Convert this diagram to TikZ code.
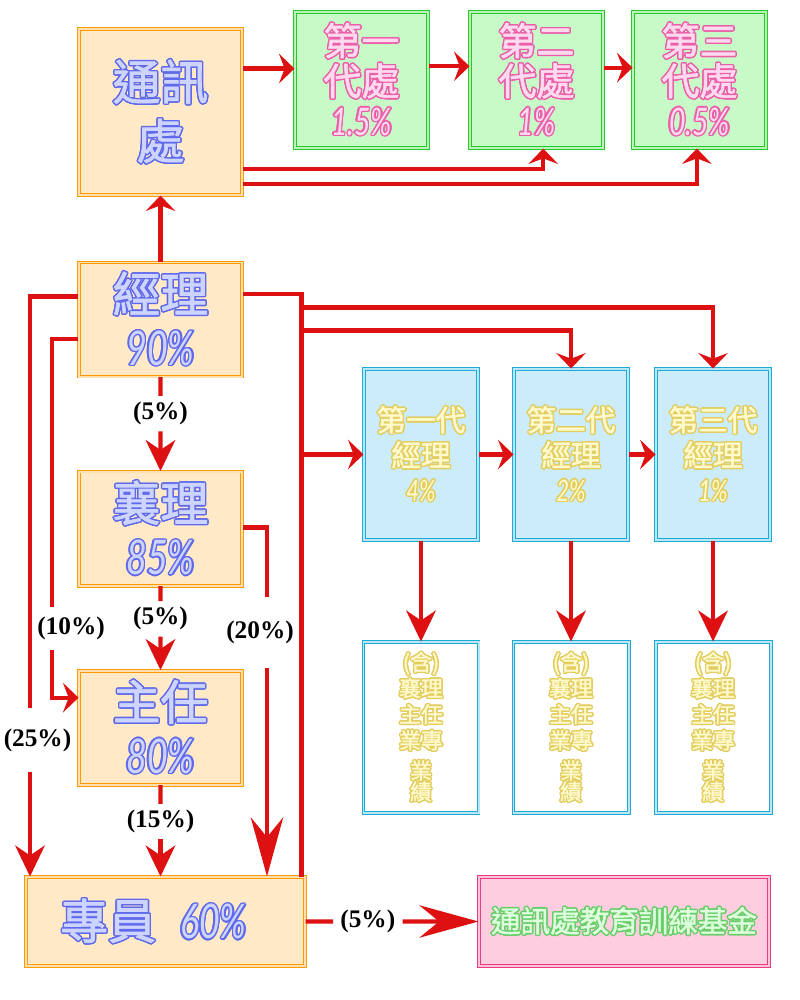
\documentclass[tikz,border=0pt]{standalone}
\usepackage{fontspec}
\usepackage{contour}
\usepackage{tikz}
\usetikzlibrary{arrows.meta,positioning,calc}
\setmainfont{Liberation Serif}
\newfontfamily\cjkfont[FakeBold=1.5]{Noto Sans CJK TC}
\newfontfamily\numfont[FakeStretch=0.75]{Lato}
\contourlength{1pt}
\definecolor{dfred}{RGB}{221,17,17}
\definecolor{dforange}{RGB}{255,153,0}
\definecolor{dfpeach}{RGB}{255,233,198}
\definecolor{dfgreen}{RGB}{34,204,34}
\definecolor{dflightgreen}{RGB}{200,250,200}
\definecolor{dfcyan}{RGB}{30,170,215}
\definecolor{dflightcyan}{RGB}{204,236,250}
\definecolor{dfpink}{RGB}{235,60,130}
\definecolor{dflightpink}{RGB}{255,204,224}
\definecolor{txtblue}{RGB}{205,212,255}
\definecolor{txtblueline}{RGB}{95,105,235}
\definecolor{txtpink}{RGB}{255,218,238}
\definecolor{txtpinkline}{RGB}{235,95,170}
\definecolor{txtyellow}{RGB}{255,250,205}
\definecolor{txtyellowline}{RGB}{228,205,95}
\definecolor{txtgreen}{RGB}{222,255,222}
\definecolor{txtgreenline}{RGB}{105,205,105}
\newcommand{\bluetxt}[1]{\textcolor{txtblue}{\contour{txtblueline}{#1}}}
\newcommand{\pinktxt}[1]{\textcolor{txtpink}{\contour{txtpinkline}{#1}}}
\newcommand{\yellowtxt}[1]{\textcolor{txtyellow}{\contour{txtyellowline}{#1}}}
\newcommand{\greentxt}[1]{\textcolor{txtgreen}{\contour{txtgreenline}{#1}}}
\tikzstyle{redline} = [line width=3pt, color=dfred]
\tikzstyle{arrow} = [redline, -{Stealth[length=11pt,width=21pt,inset=4pt]}]
\tikzstyle{longarrow} = [redline, -{Stealth[length=22pt,width=21pt,inset=7pt]}]
\tikzstyle{bigarrow} = [redline, -{Stealth[length=42pt,width=23pt,inset=14pt]}]
\tikzstyle{orgbox} = [rectangle, draw=dforange, double=dforange!30!white, line width=0.7pt, double distance=1.4pt, fill=dfpeach, align=center, inner sep=0pt, minimum width=4.075cm, minimum height=2.85cm, font=\fontsize{34}{38}\selectfont]
\tikzstyle{unitbox} = [rectangle, draw=dfgreen, double=dfgreen!30!white, line width=0.7pt, double distance=1.4pt, fill=dflightgreen, align=center, inner sep=0pt, minimum width=3.325cm, minimum height=3.4cm, font=\fontsize{27}{28.5}\selectfont]
\tikzstyle{genbox} = [rectangle, draw=dfcyan, double=dfcyan!30!white, line width=0.7pt, double distance=1.4pt, fill=dflightcyan, align=center, inner sep=0pt, minimum width=2.85cm, minimum height=4.275cm, font=\fontsize{21}{25}\selectfont]
\tikzstyle{notebox} = [rectangle, draw=dfcyan, double=dfcyan!30!white, line width=0.7pt, double distance=1.4pt, fill=white, align=center, inner sep=0pt, minimum width=2.875cm, minimum height=4.275cm, font=\fontsize{15.5}{18.5}\selectfont]
\tikzstyle{fundbox} = [rectangle, draw=dfpink, double=dfpink!30!white, line width=0.7pt, double distance=1.4pt, fill=dflightpink, align=center, inner sep=0pt, minimum width=7.25cm, minimum height=2.225cm, font=\fontsize{21}{25}\selectfont]
\tikzstyle{pctlabel} = [inner sep=0pt, minimum height=0.875cm, font=\bfseries\fontsize{18}{20}\selectfont]

\begin{document}
\begin{tikzpicture}[x=0.025cm, y=-0.025cm]
\useasboundingbox (0,0) rectangle (800,1000);
% 通訊處 and its three generations
\node[orgbox, minimum height=4.15cm, font=\fontsize{34}{42}\selectfont] (txc) at (160.5,112) {\bluetxt{\cjkfont 通訊}\\\bluetxt{\cjkfont 處}};
\node[unitbox] (g1) at (361.5,80) {\pinktxt{\cjkfont 第一}\\\pinktxt{\cjkfont 代處}\\\pinktxt{\numfont\itshape 1.5\%}};
\node[unitbox, right=1.025cm of g1] (g2) {\pinktxt{\cjkfont 第二}\\\pinktxt{\cjkfont 代處}\\\pinktxt{\numfont\itshape 1\%}};
\node[unitbox, right=0.725cm of g2] (g3) {\pinktxt{\cjkfont 第三}\\\pinktxt{\cjkfont 代處}\\\pinktxt{\numfont\itshape 0.5\%}};
% ranks
\node[orgbox] (jl) at (160.5,319.5) {\bluetxt{\cjkfont 經理}\\\bluetxt{\numfont\itshape 90\%}};
\node[orgbox, below=2.35cm of jl] (xl) {\bluetxt{\cjkfont 襄理}\\\bluetxt{\numfont\itshape 85\%}};
\node[orgbox, below=2.1cm of xl] (zr) {\bluetxt{\cjkfont 主任}\\\bluetxt{\numfont\itshape 80\%}};
\node[orgbox, minimum width=6.975cm, minimum height=2.225cm] (zy) at (165.5,921.5) {\bluetxt{\cjkfont 專員}\hspace{0.6cm}\bluetxt{\numfont\itshape 60\%}\hspace{0.6cm}};
% manager generations
\node[genbox] (m1) at (421,454.5) {\yellowtxt{\cjkfont 第一代}\\\yellowtxt{\cjkfont 經理}\\\yellowtxt{\numfont\itshape 4\%}};
\node[genbox, right=0.875cm of m1] (m2) {\yellowtxt{\cjkfont 第二代}\\\yellowtxt{\cjkfont 經理}\\\yellowtxt{\numfont\itshape 2\%}};
\node[genbox, right=0.675cm of m2] (m3) {\yellowtxt{\cjkfont 第三代}\\\yellowtxt{\cjkfont 經理}\\\yellowtxt{\numfont\itshape 1\%}};
\foreach \i in {1,2,3}
  \node[notebox, below=2.525cm of m\i] (n\i) {\yellowtxt{\cjkfont (含)}\\\yellowtxt{\cjkfont 襄理}\\\yellowtxt{\cjkfont 主任}\\\yellowtxt{\cjkfont 業專}\\[3pt]\yellowtxt{\cjkfont 業}\\[-3.5pt]\yellowtxt{\cjkfont 績}};
\node[fundbox] (fund) at (624,921.5) {\greentxt{\cjkfont 通訊處教育訓練基金}};
% percentage labels
\node[pctlabel] (l1) at ($(jl.south)!0.39!(xl.north)$) {(5\%)};
\node[pctlabel] (l2) at ($(xl.south)!0.39!(zr.north)$) {(5\%)};
\node[pctlabel] (l3) at ($(zr.south)!0.4!(zr.south |- zy.north)$) {(15\%)};
\node[pctlabel, minimum height=1.075cm] (l4) at (71,628.5) {(10\%)};
\node[pctlabel, minimum height=1.6cm] (l5) at (37.5,740) {(25\%)};
\node[pctlabel, minimum height=1.78cm] (l6) at (260,632.5) {(20\%)};
\node[pctlabel, minimum width=1.725cm] (l7) at ($(zy.east)!0.36!(fund.west)$) {(5\%)};

\draw[arrow] ($(txc.north east)!0.24!(txc.south east)$) coordinate (a1) -- (a1 -| g1.west);
\draw[arrow] ($(g1.north east)!0.4!(g1.south east)$) coordinate (a2) -- (a2 -| g2.west);
\draw[arrow] ($(g2.north east)!0.41!(g2.south east)$) coordinate (a3) -- (a3 -| g3.west);
\draw[arrow] ($(txc.north east)!0.84!(txc.south east)$) -| ($(g2.south west)!0.55!(g2.south east)$);
\draw[arrow] ($(txc.north east)!0.93!(txc.south east)$) -| ($(g3.south west)!0.48!(g3.south east)$);
\draw[arrow] (jl) -- (txc);
% down the ranks
\draw[redline] (jl) -- (l1);
\draw[longarrow] (l1) -- (xl);
\draw[redline] (xl) -- (l2);
\draw[longarrow] (l2) -- (zr);
\draw[redline] (zr) -- (l3);
\draw[longarrow] (l3.south) -- (l3.south |- zy.north);
\draw[redline] ($(jl.north west)!0.3!(jl.south west)$) -| ($(l5.north)+(-7.5,0)$);
\draw[longarrow] ($(l5.south)+(-7.5,0)$) coordinate (a5) -- (a5 |- zy.north);
\draw[redline] ($(jl.north west)!0.67!(jl.south west)$) -| ($(l4.north)+(-19,0)$);
\draw[arrow] ($(l4.south)+(-19,0)$) |- ($(zr.north west)!0.24!(zr.south west)$);
\draw[redline] ($(xl.north east)!0.49!(xl.south east)$) -| ($(l6.north)+(7,0)$);
\draw[bigarrow] ($(l6.south)+(7,0)$) coordinate (a6) -- (a6 |- zy.north);
% trunk to the manager generations
\draw[redline] ($(jl.north east)!0.28!(jl.south east)$) -| ($(zy.north west)!0.986!(zy.north east)$) coordinate (trunk);
\draw[arrow] (trunk |- m1.west) -- (m1.west);
\draw[arrow] ($(trunk |- m2.north)+(0,-38)$) -| (m2.north);
\draw[arrow] ($(trunk |- m3.north)+(0,-61)$) -| (m3.north);
\draw[arrow] (m1) -- (m2);
\draw[arrow] (m2) -- (m3);
\foreach \i in {1,2,3}
  \draw[longarrow] (m\i) -- (n\i);
\draw[redline] (zy) -- (l7);
\draw[bigarrow] (l7) -- (fund);
\end{tikzpicture}
\end{document}
